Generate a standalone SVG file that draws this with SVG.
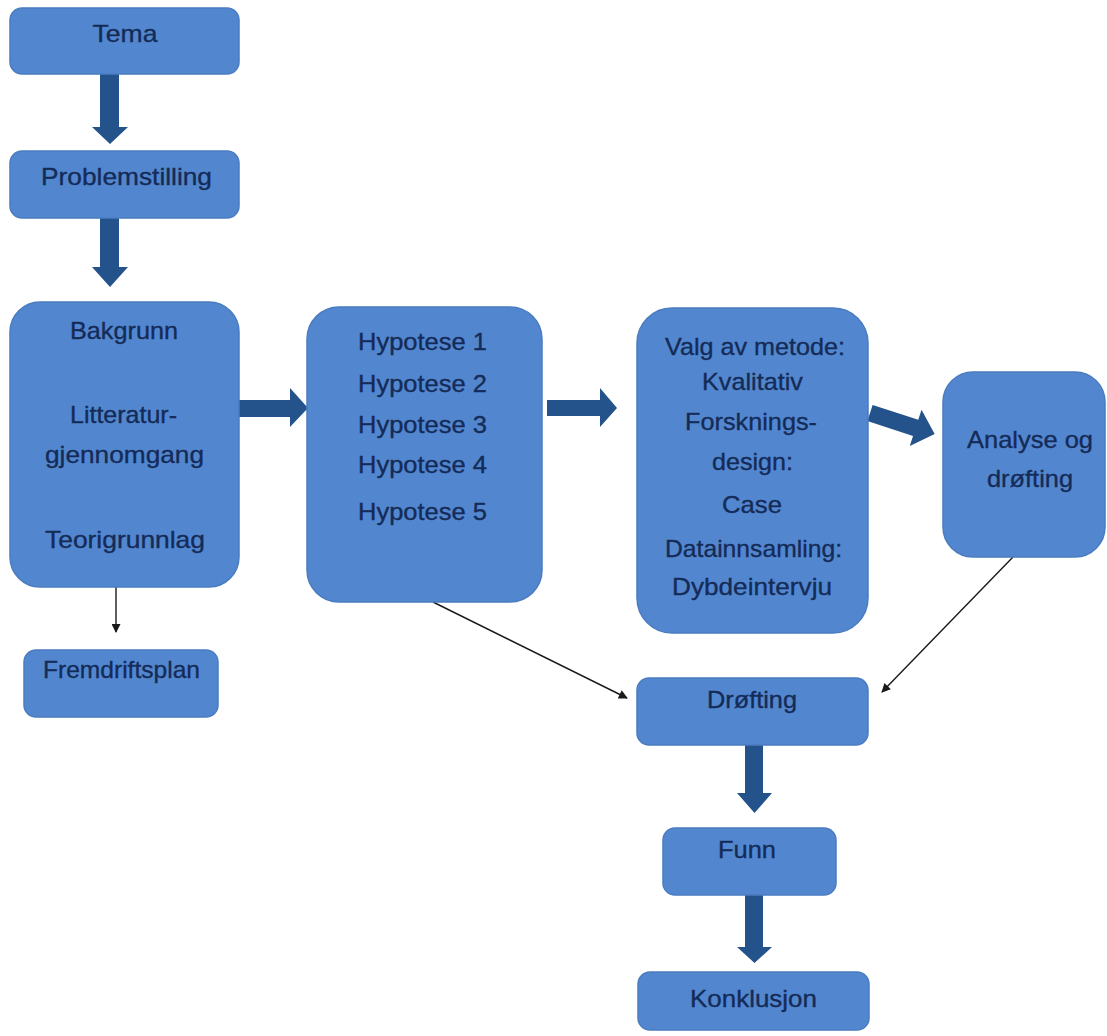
<svg xmlns="http://www.w3.org/2000/svg" width="1107" height="1036" viewBox="0 0 1107 1036">
<defs>
<style>
.box{fill:#5287d0;stroke:#4a7cc0;stroke-width:1.5}
.t{font-family:"Liberation Sans",Arial,sans-serif;font-size:24px;fill:#152b57;stroke:#152b57;stroke-width:0.35;text-anchor:middle}
.big{fill:#24528a}
.thin{stroke:#1a1a1a;stroke-width:1.4;fill:none;marker-end:url(#ah)}
</style>
<marker id="ah" viewBox="0 0 10 10" refX="9" refY="5" markerWidth="10" markerHeight="9" markerUnits="userSpaceOnUse" orient="auto">
<path d="M0,0 L10,5 L0,10 Z" fill="#1a1a1a"/>
</marker>
</defs>
<rect width="1107" height="1036" fill="#ffffff"/>
<g id="connectors">
<path class="big" d="M100,74 H119 V127 H128 L110,144 L92,127 H100 Z"/>
<path class="big" d="M100,218 H119 V267 H128 L110,287 L92,267 H100 Z"/>
<path class="big" d="M239,400 H290 V388 L308,408 L290,427 V417 H239 Z"/>
<path class="big" d="M547,400 H600 V388 L617,408 L600,427 V416 H547 Z"/>
<path class="big" transform="translate(870,413) rotate(18)" d="M0,-8.5 H48 V-19 L68,0 L48,19 V8.5 H0 Z"/>
<path class="big" d="M745,745 H763 V793 H772 L754.5,813 L737,793 H745 Z"/>
<path class="big" d="M745,895 H763 V947 H772 L754.5,963 L737,947 H745 Z"/>
<line class="thin" x1="116" y1="587" x2="116" y2="632"/>
<line class="thin" x1="433" y1="602" x2="627" y2="698"/>
<line class="thin" x1="1013" y1="557" x2="882" y2="692"/>
</g>
<g id="tema"><rect class="box" x="10" y="8" width="229" height="66" rx="12"/><text class="t" x="125" y="42" textLength="65" lengthAdjust="spacingAndGlyphs">Tema</text></g>
<g id="problemstilling"><rect class="box" x="10" y="151" width="229" height="67" rx="12"/><text class="t" x="126.5" y="185" textLength="171" lengthAdjust="spacingAndGlyphs">Problemstilling</text></g>
<g id="bakgrunn"><rect class="box" x="10" y="302" width="229" height="285" rx="30"/>
<text class="t" x="124" y="339" textLength="108" lengthAdjust="spacingAndGlyphs">Bakgrunn</text>
<text class="t" x="123.5" y="423" textLength="107" lengthAdjust="spacingAndGlyphs">Litteratur-</text>
<text class="t" x="124.5" y="463" textLength="159" lengthAdjust="spacingAndGlyphs">gjennomgang</text>
<text class="t" x="125" y="548" textLength="160" lengthAdjust="spacingAndGlyphs">Teorigrunnlag</text></g>
<g id="fremdriftsplan"><rect class="box" x="24" y="650" width="194" height="67" rx="12"/><text class="t" x="121.5" y="678" textLength="157" lengthAdjust="spacingAndGlyphs">Fremdriftsplan</text></g>
<g id="hypoteser"><rect class="box" x="307" y="307" width="235" height="295" rx="32"/>
<text class="t" x="422.5" y="350" textLength="129" lengthAdjust="spacingAndGlyphs">Hypotese 1</text>
<text class="t" x="422.5" y="392" textLength="129" lengthAdjust="spacingAndGlyphs">Hypotese 2</text>
<text class="t" x="422.5" y="433" textLength="129" lengthAdjust="spacingAndGlyphs">Hypotese 3</text>
<text class="t" x="422.5" y="473" textLength="129" lengthAdjust="spacingAndGlyphs">Hypotese 4</text>
<text class="t" x="422.5" y="520" textLength="129" lengthAdjust="spacingAndGlyphs">Hypotese 5</text></g>
<g id="metode"><rect class="box" x="637" y="308" width="231" height="325" rx="35"/>
<text class="t" x="755" y="355" textLength="180" lengthAdjust="spacingAndGlyphs">Valg av metode:</text>
<text class="t" x="752.5" y="390" textLength="101" lengthAdjust="spacingAndGlyphs">Kvalitativ</text>
<text class="t" x="751" y="430" textLength="132" lengthAdjust="spacingAndGlyphs">Forsknings-</text>
<text class="t" x="752.5" y="470" textLength="81" lengthAdjust="spacingAndGlyphs">design:</text>
<text class="t" x="752" y="513" textLength="60" lengthAdjust="spacingAndGlyphs">Case</text>
<text class="t" x="753.5" y="557" textLength="177" lengthAdjust="spacingAndGlyphs">Datainnsamling:</text>
<text class="t" x="752" y="595" textLength="160" lengthAdjust="spacingAndGlyphs">Dybdeintervju</text></g>
<g id="analyse"><rect class="box" x="943" y="372" width="162" height="185" rx="30"/>
<text class="t" x="1030" y="448" textLength="126" lengthAdjust="spacingAndGlyphs">Analyse og</text>
<text class="t" x="1030" y="487" textLength="86" lengthAdjust="spacingAndGlyphs">drøfting</text></g>
<g id="drofting"><rect class="box" x="637" y="678" width="231" height="67" rx="12"/><text class="t" x="752" y="708" textLength="90" lengthAdjust="spacingAndGlyphs">Drøfting</text></g>
<g id="funn"><rect class="box" x="663" y="828" width="173" height="67" rx="12"/><text class="t" x="747" y="858" textLength="58" lengthAdjust="spacingAndGlyphs">Funn</text></g>
<g id="konklusjon"><rect class="box" x="638" y="972" width="231" height="58" rx="12"/><text class="t" x="753.5" y="1007" textLength="127" lengthAdjust="spacingAndGlyphs">Konklusjon</text></g>
</svg>
